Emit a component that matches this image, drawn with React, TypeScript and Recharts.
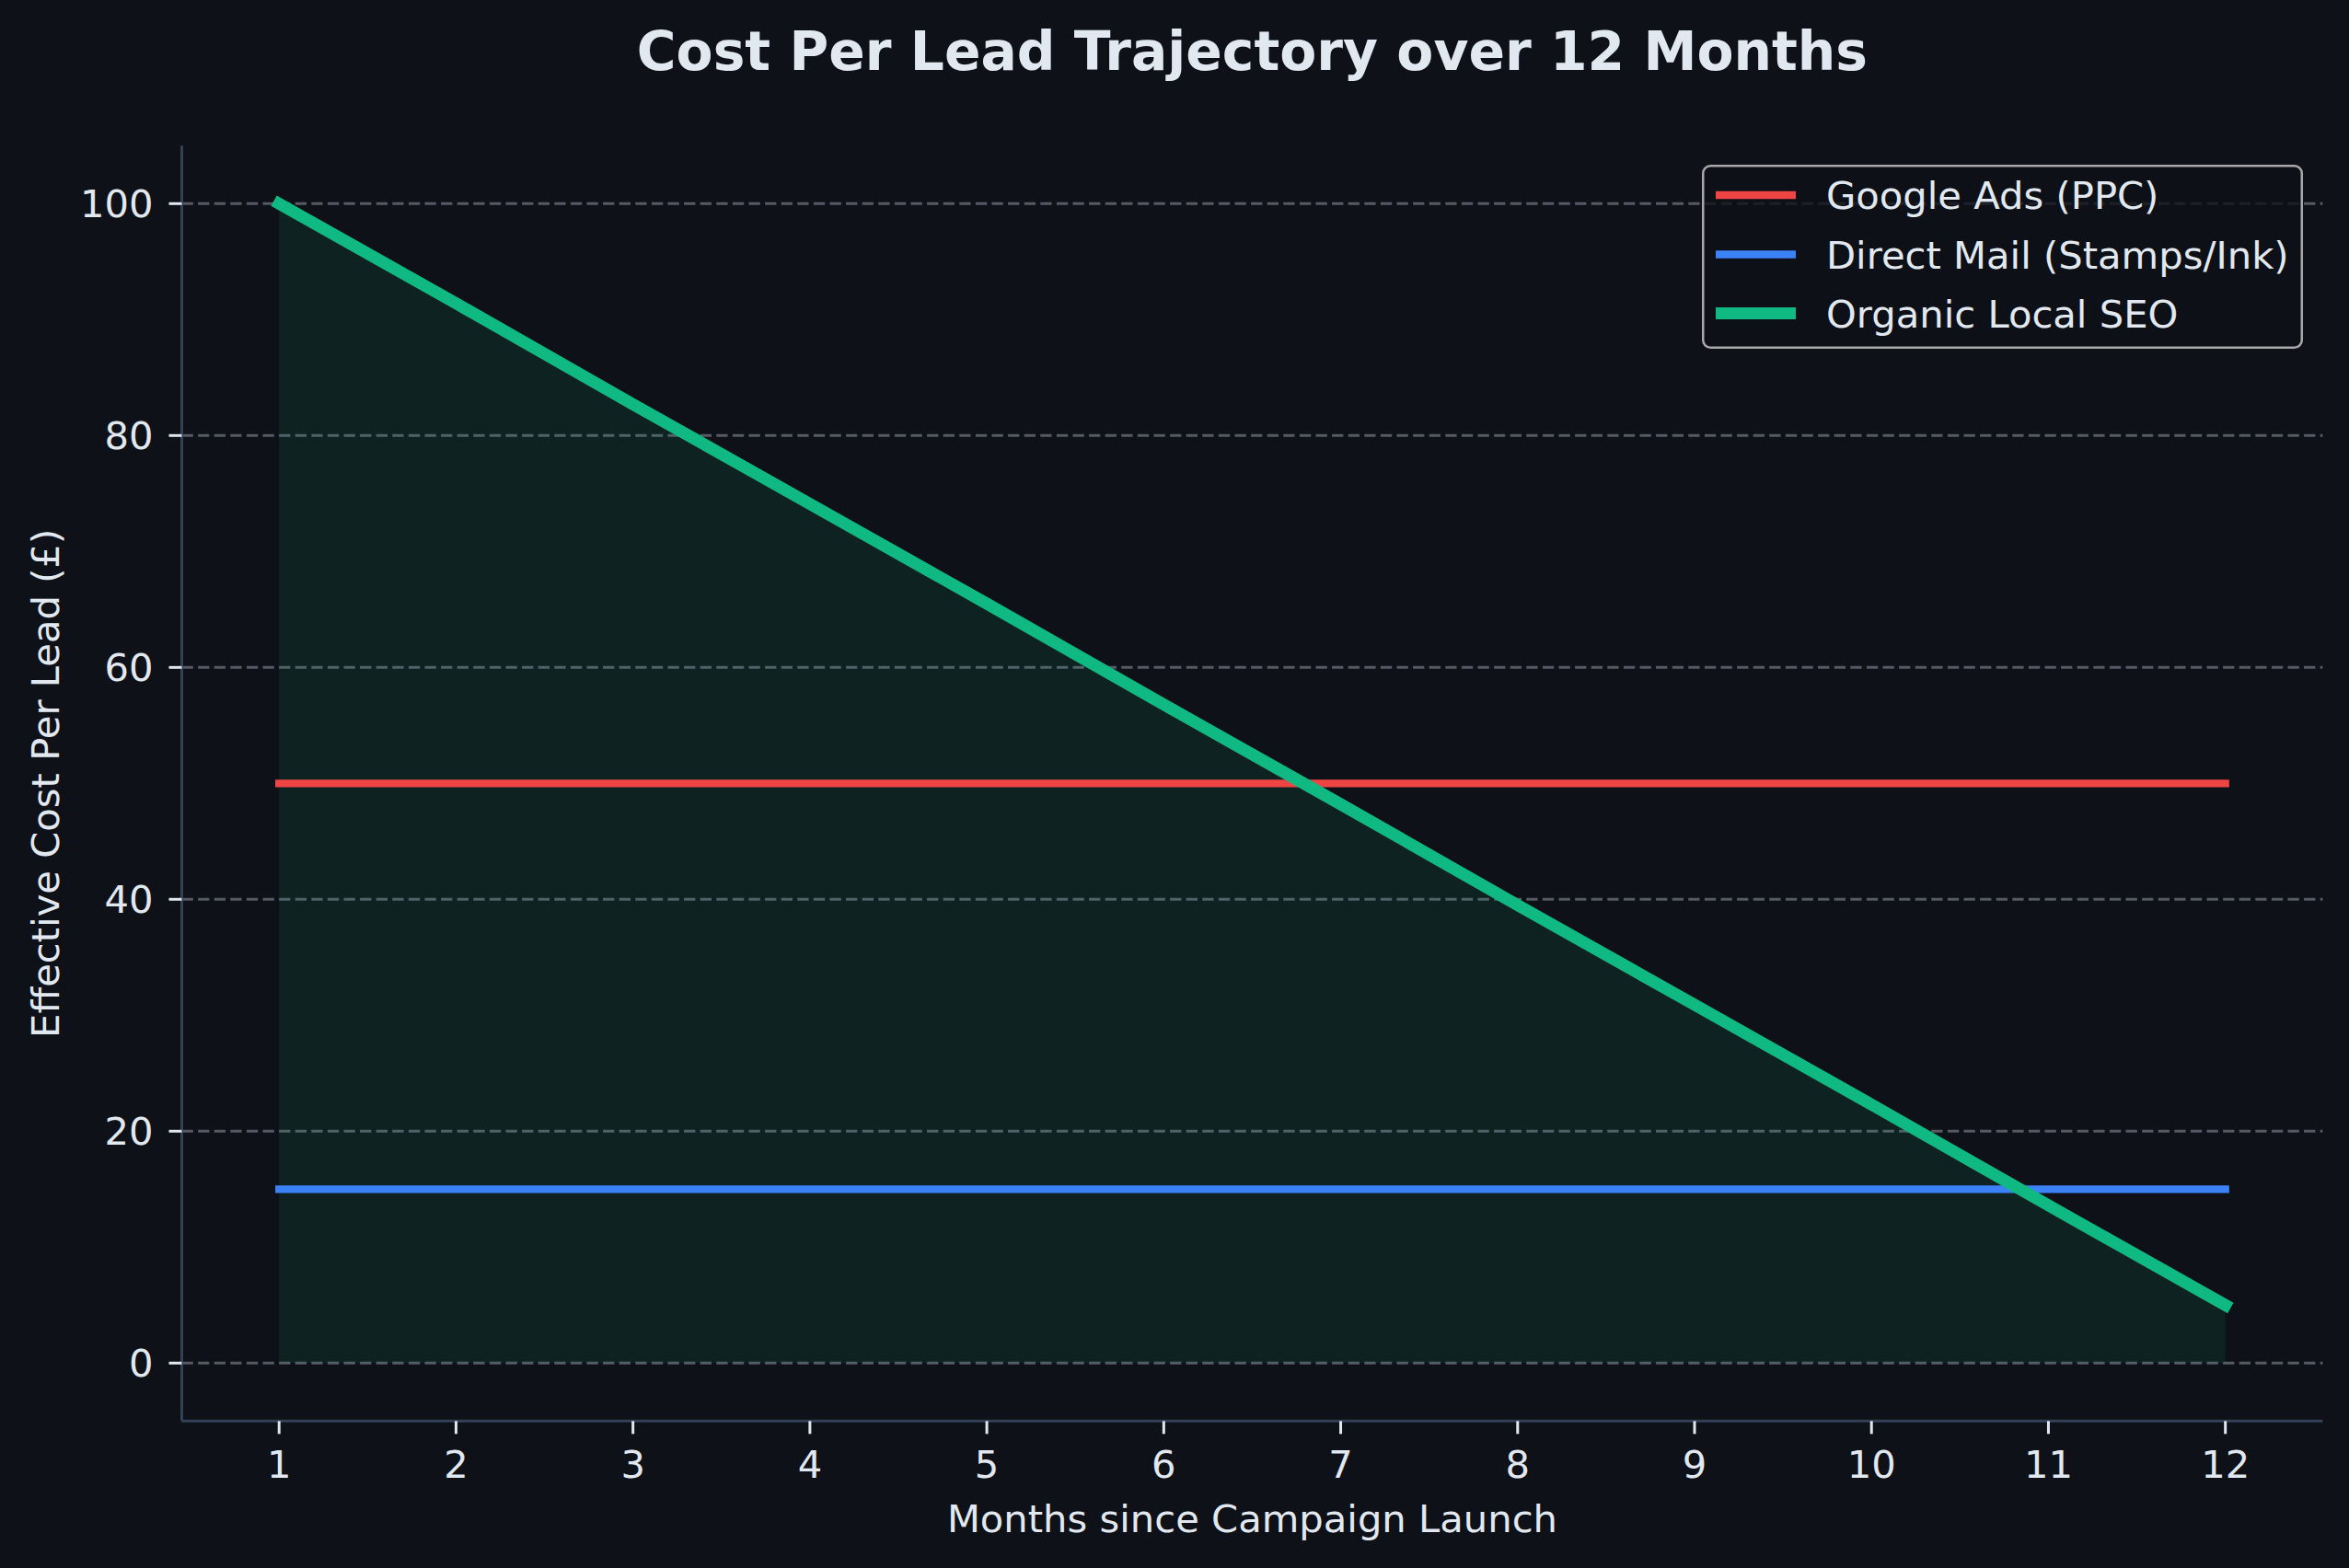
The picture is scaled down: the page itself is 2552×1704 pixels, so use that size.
import React from 'react';
import { ComposedChart, Line, Area, XAxis, YAxis, CartesianGrid, Legend } from 'recharts';

// Cost per lead by channel, months 1-12 after launch (GBP)
const MONTHS = [1, 2, 3, 4, 5, 6, 7, 8, 9, 10, 11, 12];
const GOOGLE_ADS = [50, 50, 50, 50, 50, 50, 50, 50, 50, 50, 50, 50];
const DIRECT_MAIL = [15, 15, 15, 15, 15, 15, 15, 15, 15, 15, 15, 15];
const ORGANIC_SEO = [100, 91.4, 82.7, 74.1, 65.5, 56.8, 48.2, 39.5, 30.9, 22.3, 13.6, 5];
const Y_TICKS = [0, 20, 40, 60, 80, 100];

const SERIES = [
  { key: 'google', name: 'Google Ads (PPC)', color: '#ef4444', width: 8.3 },
  { key: 'mail', name: 'Direct Mail (Stamps/Ink)', color: '#3b82f6', width: 8.3 },
  { key: 'seo', name: 'Organic Local SEO', color: '#10b981', width: 13 },
];

const data = MONTHS.map((month, i) => ({
  month,
  google: GOOGLE_ADS[i],
  mail: DIRECT_MAIL[i],
  seo: ORGANIC_SEO[i],
}));

const W = 2552;
const H = 1704;
const BG = '#0e1118';
const TEXT = '#e2e8f0';
const SPINE = '#334155';
const FONT = '"DejaVu Sans", sans-serif';
const FS = 41.7;

// plot box edges
const LEFT = 197.5;
const RIGHT = 2523.4;
const TOP = 158.3;
const BOTTOM = 1544.3;
const X_AXIS_H = 100;

const LEGEND_X = 1849;
const LEGEND_Y = 179;
const LEGEND_W = 653;
const LEGEND_H = 200;
const ROW_Y = [33, 97.5, 161.5];

function LegendBox({ payload }: any) {
  const items = SERIES.filter((s) => (payload ?? []).some((p: any) => p.dataKey === s.key));
  return (
    <svg width={LEGEND_W} height={LEGEND_H} style={{ display: 'block' }}>
      <rect
        x={1.25}
        y={1.25}
        width={LEGEND_W - 2.5}
        height={LEGEND_H - 2.5}
        rx={8}
        fill={BG}
        fillOpacity={0.8}
        stroke="#a8a8a8"
        strokeWidth={2.5}
      />
      {items.map((s, i) => (
        <g key={s.key}>
          <line
            x1={15 + s.width / 2}
            x2={102 - s.width / 2}
            y1={ROW_Y[i]}
            y2={ROW_Y[i]}
            stroke={s.color}
            strokeWidth={s.width}
            strokeLinecap="square"
          />
          <text x={135} y={ROW_Y[i] + 15} fill={TEXT} fontSize={FS} fontFamily={FONT}>
            {s.name}
          </text>
        </g>
      ))}
    </svg>
  );
}

export default function App() {
  const tickStyle = { fill: TEXT, fontSize: FS, fontFamily: FONT };
  const midY = (TOP + BOTTOM) / 2;
  return (
    <div style={{ position: 'absolute', left: 0, top: 0, width: W, height: H, background: BG }}>
      <ComposedChart
        width={W}
        height={H}
        data={data}
        margin={{ top: TOP, right: W - RIGHT, bottom: H - BOTTOM - X_AXIS_H, left: 0 }}
      >
        <CartesianGrid
          vertical={false}
          horizontalValues={Y_TICKS}
          syncWithTicks
          stroke="#9ca3af"
          strokeOpacity={0.5}
          strokeWidth={3}
          strokeDasharray="12.3 5.3"
        />
        <XAxis
          type="number"
          dataKey="month"
          domain={[0.45, 12.55]}
          ticks={MONTHS}
          interval={0}
          allowDataOverflow
          height={X_AXIS_H}
          tick={tickStyle}
          tickSize={14}
          tickMargin={18.5}
          tickLine={{ stroke: TEXT, strokeWidth: 3 }}
          axisLine={{ stroke: SPINE, strokeWidth: 3 }}
        />
        <YAxis
          type="number"
          domain={[-5, 105]}
          ticks={Y_TICKS}
          interval={0}
          allowDataOverflow
          width={LEFT}
          tick={tickStyle}
          tickSize={14}
          tickMargin={17}
          tickLine={{ stroke: TEXT, strokeWidth: 3 }}
          axisLine={{ stroke: SPINE, strokeWidth: 3 }}
        />
        <Area
          type="linear"
          dataKey="seo"
          baseValue={0}
          fill="#10b981"
          fillOpacity={0.1}
          stroke="none"
          legendType="none"
          isAnimationActive={false}
        />
        {SERIES.map((s) => (
          <Line
            key={s.key}
            type="linear"
            dataKey={s.key}
            name={s.name}
            stroke={s.color}
            strokeWidth={s.width}
            strokeLinecap="square"
            dot={false}
            activeDot={false}
            isAnimationActive={false}
          />
        ))}
        <Legend
          layout="vertical"
          align="center"
          verticalAlign="middle"
          content={LegendBox}
          wrapperStyle={{ left: LEGEND_X, top: LEGEND_Y, width: LEGEND_W, height: LEGEND_H }}
        />
      </ComposedChart>
      <svg
        width={W}
        height={H}
        style={{ position: 'absolute', left: 0, top: 0, pointerEvents: 'none' }}
      >
        <text
          x={(LEFT + RIGHT) / 2}
          y={76}
          textAnchor="middle"
          fill={TEXT}
          fontSize={58.3}
          fontWeight="bold"
          fontFamily={FONT}
        >
          Cost Per Lead Trajectory over 12 Months
        </text>
        <text
          x={(LEFT + RIGHT) / 2}
          y={1665}
          textAnchor="middle"
          fill={TEXT}
          fontSize={FS}
          fontFamily={FONT}
        >
          Months since Campaign Launch
        </text>
        <text
          x={64}
          y={midY}
          textAnchor="middle"
          transform={`rotate(-90 64 ${midY})`}
          fill={TEXT}
          fontSize={FS}
          fontFamily={FONT}
        >
          Effective Cost Per Lead (£)
        </text>
      </svg>
    </div>
  );
}
